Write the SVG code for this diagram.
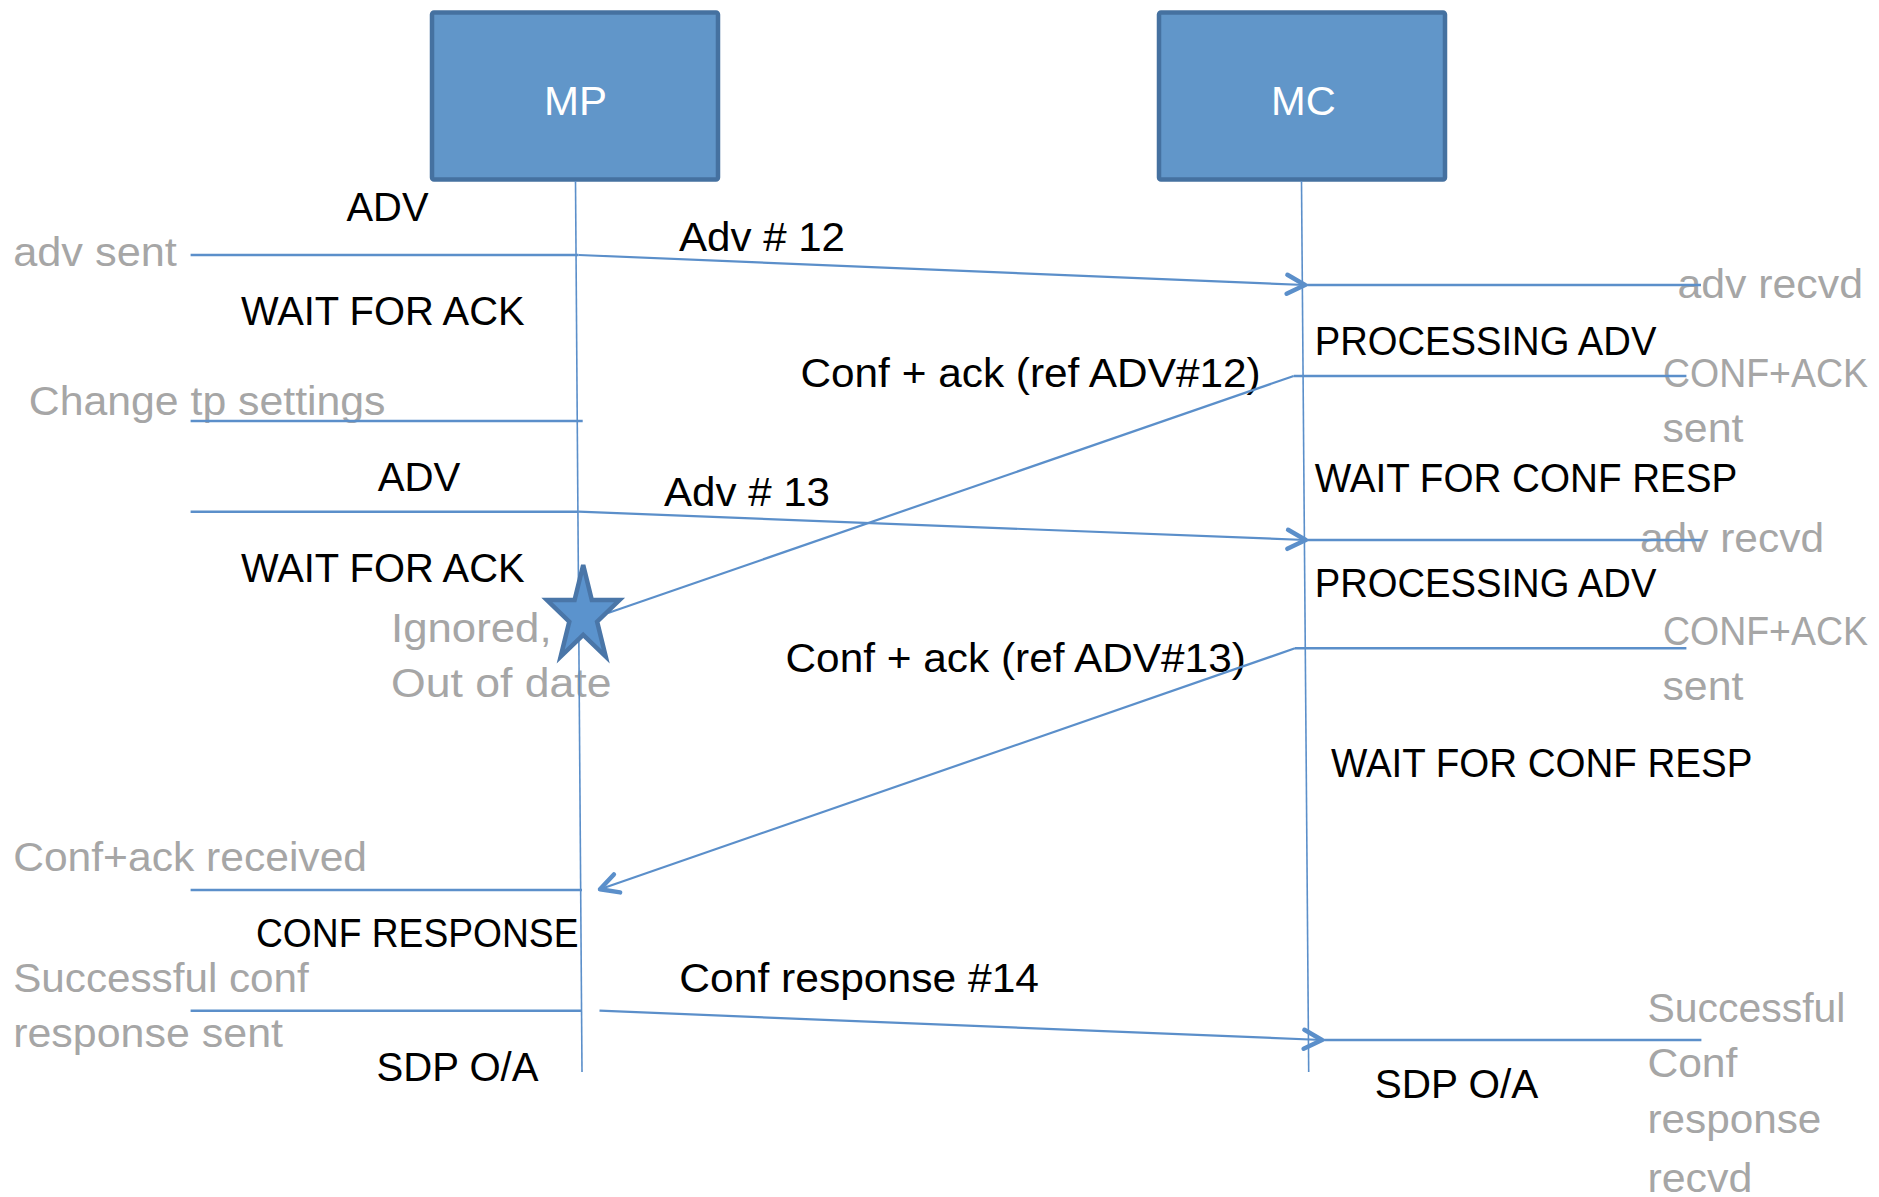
<svg xmlns="http://www.w3.org/2000/svg" width="1879" height="1197" viewBox="0 0 1879 1197">
<style>
.box{fill:#6196C9;stroke:#4571A0;stroke-width:4.5}
.t{font-family:"Liberation Sans",Arial,sans-serif;font-size:40px}
.k{fill:#000}
.g{fill:#A6A6A6}
.w{fill:#FFFFFF}
.life{stroke:#5B8FCA;stroke-width:1.6;fill:none}
.h{stroke:#5B8FCA;stroke-width:2.5;fill:none}
.m{stroke:#5B8FCA;stroke-width:2.2;fill:none}
.star{fill:#5B93CD;stroke:#4A76A8;stroke-width:4.5;stroke-linejoin:miter}
</style>
<defs>
<marker id="arr" markerUnits="userSpaceOnUse" markerWidth="40" markerHeight="40" refX="0" refY="0" viewBox="-25 -20 30 40" orient="auto" overflow="visible">
<path d="M-18,-9.5 L0,0 L-18,9.5" fill="none" stroke="#5B8FCA" stroke-width="4.5" stroke-linecap="round" stroke-linejoin="round"/>
</marker>
</defs>
<rect width="1879" height="1197" fill="#FFFFFF"/>

<g id="node-MP">
<rect class="box" x="432" y="12.5" width="286" height="167" rx="2"/>
<text class="t w" x="575.5" y="115" text-anchor="middle" textLength="63" lengthAdjust="spacingAndGlyphs">MP</text>
</g>
<g id="node-MC">
<rect class="box" x="1159" y="12.5" width="286" height="167" rx="2"/>
<text class="t w" x="1271" y="115" textLength="64.7" lengthAdjust="spacingAndGlyphs">MC</text>
</g>

<g id="labels">
<text class="t k" x="346.5" y="221" textLength="82" lengthAdjust="spacingAndGlyphs">ADV</text>
<text class="t k" x="679" y="250.7" textLength="166" lengthAdjust="spacingAndGlyphs">Adv # 12</text>
<text class="t k" x="241" y="325" textLength="283.6" lengthAdjust="spacingAndGlyphs">WAIT FOR ACK</text>
<text class="t k" x="1314.7" y="355" textLength="341.7" lengthAdjust="spacingAndGlyphs">PROCESSING ADV</text>
<text class="t k" x="800.4" y="387" textLength="460.3" lengthAdjust="spacingAndGlyphs">Conf + ack (ref ADV#12)</text>
<text class="t k" x="377.7" y="491" textLength="82.7" lengthAdjust="spacingAndGlyphs">ADV</text>
<text class="t k" x="664" y="506" textLength="166" lengthAdjust="spacingAndGlyphs">Adv # 13</text>
<text class="t k" x="1314.7" y="491.7" textLength="422.7" lengthAdjust="spacingAndGlyphs">WAIT FOR CONF RESP</text>
<text class="t k" x="241" y="581.7" textLength="283.6" lengthAdjust="spacingAndGlyphs">WAIT FOR ACK</text>
<text class="t k" x="1314.7" y="596.7" textLength="341.7" lengthAdjust="spacingAndGlyphs">PROCESSING ADV</text>
<text class="t k" x="785.5" y="671.7" textLength="460.3" lengthAdjust="spacingAndGlyphs">Conf + ack (ref ADV#13)</text>
<text class="t k" x="1331" y="776.7" textLength="421.4" lengthAdjust="spacingAndGlyphs">WAIT FOR CONF RESP</text>
<text class="t k" x="256" y="946.7" textLength="322.5" lengthAdjust="spacingAndGlyphs">CONF RESPONSE</text>
<text class="t k" x="679.3" y="991.7" textLength="359.7" lengthAdjust="spacingAndGlyphs">Conf response #14</text>
<text class="t k" x="376.5" y="1080.7" textLength="162" lengthAdjust="spacingAndGlyphs">SDP O/A</text>
<text class="t k" x="1374.7" y="1097.7" textLength="163.6" lengthAdjust="spacingAndGlyphs">SDP O/A</text>

<text class="t g" x="13.2" y="266" textLength="163.7" lengthAdjust="spacingAndGlyphs">adv sent</text>
<text class="t g" x="28.8" y="415" textLength="356.7" lengthAdjust="spacingAndGlyphs">Change tp settings</text>
<text class="t g" x="1677.4" y="297.7" textLength="185.6" lengthAdjust="spacingAndGlyphs">adv recvd</text>
<text class="t g" x="1663" y="387" textLength="205" lengthAdjust="spacingAndGlyphs">CONF+ACK</text>
<text class="t g" x="1662.4" y="441.7" textLength="81" lengthAdjust="spacingAndGlyphs">sent</text>
<text class="t g" x="1640" y="551.7" textLength="184" lengthAdjust="spacingAndGlyphs">adv recvd</text>
<text class="t g" x="1663" y="645" textLength="205" lengthAdjust="spacingAndGlyphs">CONF+ACK</text>
<text class="t g" x="1662.4" y="700" textLength="81" lengthAdjust="spacingAndGlyphs">sent</text>
<text class="t g" x="391" y="641.7" textLength="160.6" lengthAdjust="spacingAndGlyphs">Ignored,</text>
<text class="t g" x="391" y="696.7" textLength="220.5" lengthAdjust="spacingAndGlyphs">Out of date</text>
<text class="t g" x="13.2" y="870.7" textLength="353.8" lengthAdjust="spacingAndGlyphs">Conf+ack received</text>
<text class="t g" x="13.2" y="991.7" textLength="295.6" lengthAdjust="spacingAndGlyphs">Successful conf</text>
<text class="t g" x="13.2" y="1046.7" textLength="269.8" lengthAdjust="spacingAndGlyphs">response sent</text>
<text class="t g" x="1647.4" y="1021.7" textLength="198" lengthAdjust="spacingAndGlyphs">Successful</text>
<text class="t g" x="1647.4" y="1077.3" textLength="90" lengthAdjust="spacingAndGlyphs">Conf</text>
<text class="t g" x="1647.4" y="1133.3" textLength="174" lengthAdjust="spacingAndGlyphs">response</text>
<text class="t g" x="1647.4" y="1191.7" textLength="105" lengthAdjust="spacingAndGlyphs">recvd</text>
</g>

<g id="connectors">
<line class="life" x1="575.5" y1="181" x2="582" y2="1072"/>
<line class="life" x1="1301.5" y1="181" x2="1308.7" y2="1072"/>

<line class="h" x1="190.6" y1="255" x2="578.5" y2="255"/>
<line class="m" x1="578.5" y1="255" x2="1305" y2="285" marker-end="url(#arr)"/>
<line class="h" x1="1305" y1="285" x2="1701" y2="285"/>

<line class="h" x1="190.6" y1="421" x2="582.7" y2="421"/>

<line class="h" x1="1293.7" y1="376" x2="1686.4" y2="376"/>
<line class="m" x1="1293.7" y1="376" x2="608" y2="613"/>

<line class="h" x1="190.6" y1="511.7" x2="578.5" y2="511.7"/>
<line class="m" x1="578.5" y1="511.7" x2="1305.7" y2="540" marker-end="url(#arr)"/>
<line class="h" x1="1305.7" y1="540" x2="1701.4" y2="540"/>

<line class="h" x1="1295" y1="648.3" x2="1686.4" y2="648.3"/>
<line class="m" x1="1295" y1="648.3" x2="600" y2="889.3" marker-end="url(#arr)"/>

<line class="h" x1="190.6" y1="890" x2="582" y2="890"/>
<line class="h" x1="190.6" y1="1010.7" x2="582" y2="1010.7"/>

<line class="m" x1="599.5" y1="1010.7" x2="1322" y2="1040" marker-end="url(#arr)"/>
<line class="h" x1="1322" y1="1040" x2="1701.4" y2="1040"/>
</g>

<g id="node-star">
<polygon class="star" points="583.2,565 591.8,600 619.5,600 597.1,621.6 605.7,656.5 583.2,634.9 560.7,656.5 569.3,621.6 546.9,600 574.6,600"/>
</g>
</svg>
